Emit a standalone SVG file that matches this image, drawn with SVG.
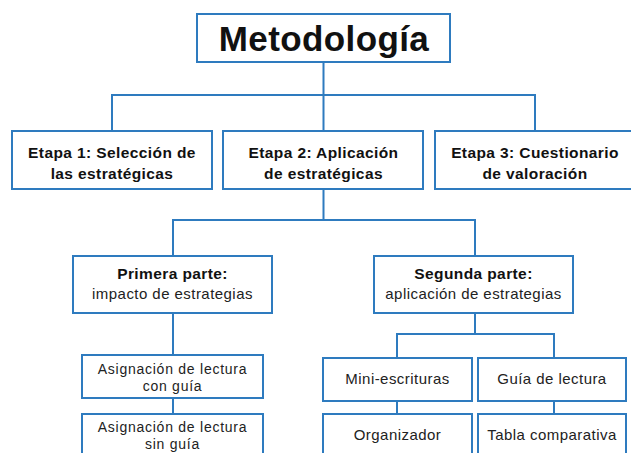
<svg xmlns="http://www.w3.org/2000/svg" width="631" height="453" viewBox="0 0 631 453">
<style>
.box{fill:#fff;stroke:#2e7bbf;stroke-width:2}
.ln{fill:none;stroke:#2e7bbf;stroke-width:2}
.t{font-family:"Liberation Sans",Arial,Helvetica,sans-serif;text-anchor:middle;fill:#111}
.title{font-size:35px;font-weight:bold;letter-spacing:0.4px}
.b{font-size:15.5px;font-weight:bold;letter-spacing:0.4px}
.r{font-size:15px;letter-spacing:0.45px;fill:#222}
.s{font-size:14px;letter-spacing:0.75px;fill:#222}
</style>
<rect width="631" height="453" fill="#fff"/>
<g id="connectors">
<path class="ln" d="M323.5 62V95M112 131V95H535V131M323.5 95V131"/>
<path class="ln" d="M323.5 189V220M173 256V220H475V256"/>
<path class="ln" d="M173 313V355M173 398V414"/>
<path class="ln" d="M475 313V334M397 358V334H554V358M397 401V414M554 401V414"/>
</g>
<g id="metodologia"><rect class="box" x="197" y="14" width="253" height="48"/><text class="t title" x="324" y="51">Metodología</text></g>
<g id="etapa1"><rect class="box" x="12" y="131" width="200" height="58"/><text class="t b" x="112" y="158">Etapa 1: Selección de</text><text class="t b" x="112" y="179">las estratégicas</text></g>
<g id="etapa2"><rect class="box" x="223" y="131" width="200" height="58"/><text class="t b" x="323.5" y="158">Etapa 2: Aplicación</text><text class="t b" x="323.5" y="179">de estratégicas</text></g>
<g id="etapa3"><rect class="box" x="435" y="131" width="200" height="58"/><text class="t b" x="535" y="158">Etapa 3: Cuestionario</text><text class="t b" x="535" y="179">de valoración</text></g>
<g id="primera"><rect class="box" x="73" y="256" width="199" height="57"/><text class="t b" x="172.5" y="279">Primera parte:</text><text class="t r" x="172.5" y="299">impacto de estrategias</text></g>
<g id="segunda"><rect class="box" x="374" y="256" width="199" height="57"/><text class="t b" x="473.5" y="279">Segunda parte:</text><text class="t r" x="473.5" y="299">aplicación de estrategias</text></g>
<g id="asig1"><rect class="box" x="82" y="355" width="181" height="43"/><text class="t s" x="172.5" y="374">Asignación de lectura</text><text class="t s" x="172.5" y="391">con guía</text></g>
<g id="asig2"><rect class="box" x="82" y="414" width="181" height="50"/><text class="t s" x="172.5" y="432">Asignación de lectura</text><text class="t s" x="172.5" y="449">sin guía</text></g>
<g id="mini"><rect class="box" x="323" y="358" width="149" height="43"/><text class="t r" x="397.5" y="384">Mini-escrituras</text></g>
<g id="guia"><rect class="box" x="478" y="358" width="148" height="43"/><text class="t r" x="552" y="384">Guía de lectura</text></g>
<g id="organizador"><rect class="box" x="323" y="414" width="149" height="50"/><text class="t r" x="397.5" y="440">Organizador</text></g>
<g id="tabla"><rect class="box" x="478" y="414" width="148" height="50"/><text class="t r" x="552" y="440">Tabla comparativa</text></g>
</svg>
